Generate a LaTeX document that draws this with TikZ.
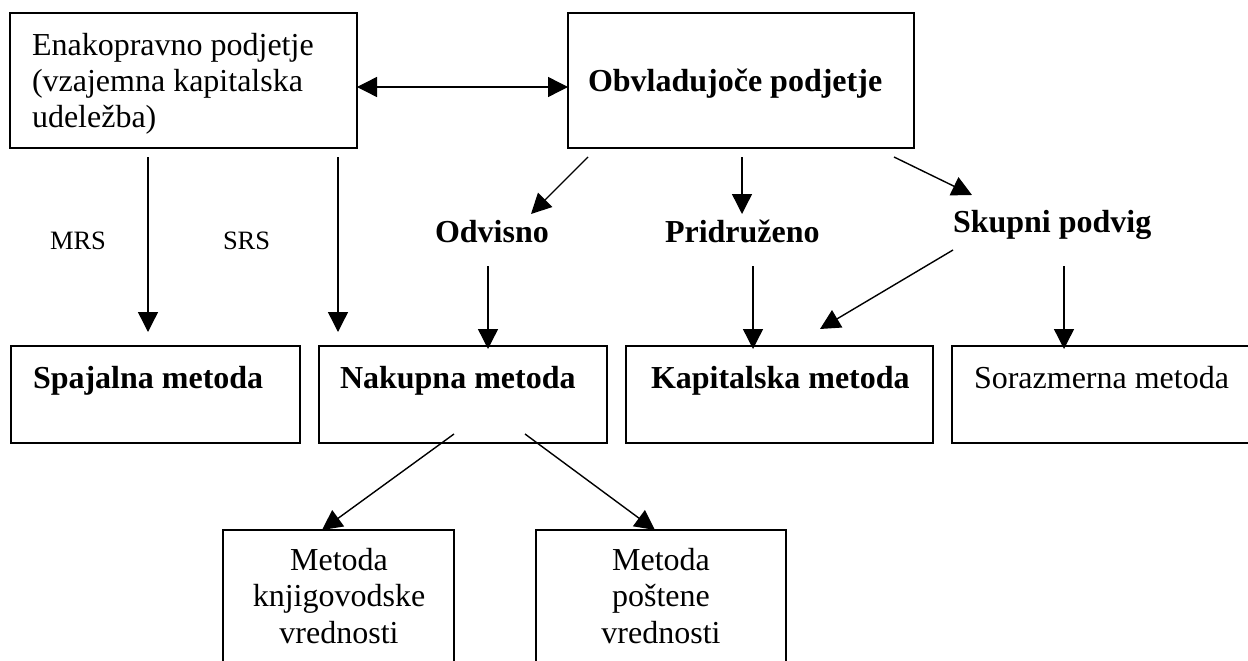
\documentclass[tikz,border=0pt]{standalone}
\usepackage{fontspec}
\setmainfont{Liberation Serif}
\usetikzlibrary{arrows.meta}
\begin{document}
\begin{tikzpicture}[x=1pt,y=-1pt,
  box/.style={draw, line width=1.8pt, inner sep=0pt, outer sep=0pt, anchor=north west},
  lbl/.style={inner sep=0pt, outer sep=0pt, font=\fontsize{32pt}{36.5pt}\selectfont},
  blbl/.style={inner sep=0pt, outer sep=0pt, font=\fontsize{32pt}{36.5pt}\selectfont\bfseries},
  slbl/.style={inner sep=0pt, outer sep=0pt, font=\fontsize{26.5pt}{30pt}\selectfont},
  arr/.style={line width=1.4pt, -{Triangle[length=20pt,width=20pt]}},
  dblarr/.style={line width=1.4pt, {Triangle[length=20pt,width=20pt]}-{Triangle[length=20pt,width=20pt]}}
]
\useasboundingbox (0,0) rectangle (1248,661);
\clip (0,0) rectangle (1248,661);
\fill[white] (0,0) rectangle (1248,661);

% boxes
\node[box, minimum width=347pt, minimum height=135pt] (A) at (10,13) {};
\node[box, minimum width=346pt, minimum height=135pt] (B) at (568,13) {};
\node[box, minimum width=289pt, minimum height=97pt] (spaj) at (11,346) {};
\node[box, minimum width=288pt, minimum height=97pt] (nak) at (319,346) {};
\node[box, minimum width=307pt, minimum height=97pt] (kap) at (626,346) {};
\node[box, minimum width=330pt, minimum height=97pt] (sor) at (952,346) {};
\node[box, minimum width=231pt, minimum height=170pt] (mk) at (223,530) {};
\node[box, minimum width=250pt, minimum height=170pt] (mp) at (536,530) {};

% texts (base anchor = baseline of last line)
\node[lbl, anchor=base west, align=left] (tA) at (32,128) {Enakopravno podjetje\\(vzajemna kapitalska\\udeležba)};
\node[blbl, anchor=base west] (tB) at (588,92) {Obvladujoče podjetje};
\node[blbl, anchor=base west] (odv) at (435,242) {Odvisno};
\node[blbl, anchor=base west] (pri) at (665,242) {Pridruženo};
\node[blbl, anchor=base west] (sku) at (953,232) {Skupni podvig};
\node[slbl, anchor=base west] (mrs) at (50,249) {MRS};
\node[slbl, anchor=base west] (srs) at (223,249) {SRS};
\node[blbl, anchor=base west] (tspaj) at (33,388) {Spajalna metoda};
\node[blbl, anchor=base west] (tnak) at (340,388) {Nakupna metoda};
\node[blbl, anchor=base west] (tkap) at (651,388) {Kapitalska metoda};
\node[lbl, anchor=base west] (tsor) at (974,388) {Sorazmerna metoda};
\node[lbl, anchor=base, align=center] (tmk) at (339,643) {Metoda\\knjigovodske\\vrednosti};
\node[lbl, anchor=base, align=center] (tmp) at (661,643) {Metoda\\poštene\\vrednosti};

% connector end points
\coordinate (mrsS) at (148,157);
\coordinate (mrsE) at (148,332);
\coordinate (srsS) at (338,157);
\coordinate (srsE) at (338,332);
\coordinate (odvS) at (588,157);
\coordinate (odvE) at (531,214);
\coordinate (priS) at (742,157);
\coordinate (priE) at (742,214);
\coordinate (skuS) at (894,157);
\coordinate (skuE) at (972,195);
\coordinate (odvD) at (488,266);
\coordinate (priD) at (753,266);
\coordinate (skuD) at (1064,266);
\coordinate (skuK) at (953,250);
\coordinate (kapE) at (820,329);
\coordinate (nakL) at (454,434);
\coordinate (nakR) at (525,434);
\coordinate (mkE) at (322,530);
\coordinate (mpE) at (655,530);

% connectors
\draw[dblarr] ([yshift=-6.5pt]A.east) -- ([yshift=-6.5pt]B.west);
\draw[arr] (mrsS) -- (mrsE);
\draw[arr] (srsS) -- (srsE);
\draw[arr] (odvS) -- (odvE);
\draw[arr] (priS) -- (priE);
\draw[arr] (skuS) -- (skuE);
\draw[arr] (odvD) -- ([yshift=-3pt]odvD |- nak.north);
\draw[arr] (priD) -- ([yshift=-3pt]priD |- kap.north);
\draw[arr] (skuD) -- ([yshift=-3pt]skuD |- sor.north);
\draw[arr] (skuK) -- (kapE);
\draw[arr] (nakL) -- (mkE);
\draw[arr] (nakR) -- (mpE);
\end{tikzpicture}
\end{document}
